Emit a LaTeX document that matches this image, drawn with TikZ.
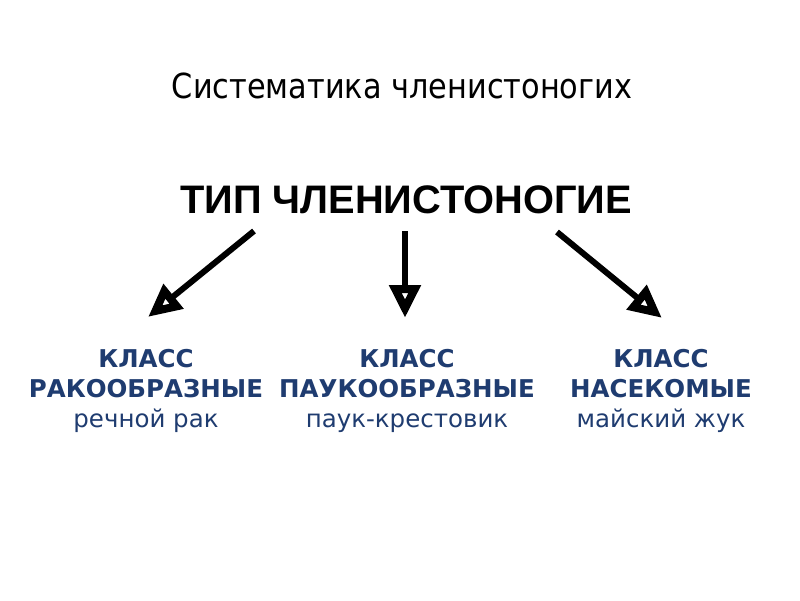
\documentclass[tikz,border=0pt]{standalone}
\usepackage{fontspec}
\setmainfont{DejaVu Sans}
\newfontfamily\titlefont[FakeStretch=0.88]{DejaVu Sans}
\newfontfamily\arialfont{Liberation Sans}
\usetikzlibrary{arrows.meta}
\definecolor{classblue}{RGB}{31,60,112}
\tikzset{
  titlestyle/.style={font=\titlefont\fontsize{34.5}{40}\selectfont, anchor=base, inner sep=0pt},
  mainstyle/.style={font=\arialfont\bfseries\fontsize{39.8}{44}\selectfont, anchor=base, inner sep=0pt},
  classstyle/.style={font=\fontsize{24.5}{30}\selectfont, text=classblue, align=center, anchor=base, inner sep=0pt},
  bigarrow/.style={line width=6pt, -{Triangle[open, length=33pt, width=30pt, fill=white, line width=8pt]}}
}
\begin{document}
\begin{tikzpicture}[x=1pt,y=-1pt]
\useasboundingbox[fill=white] (0,0) rectangle (800,600);
\node[titlestyle] (title) at (402,98) {Систематика членистоногих};
\node[mainstyle] (main) at (406,213) {ТИП ЧЛЕНИСТОНОГИЕ};
\node[classstyle] (c1) at (146,427) {\textbf{КЛАСС}\\\textbf{РАКООБРАЗНЫЕ}\\речной рак};
\node[classstyle] (c2) at (407,427) {\textbf{КЛАСС}\\\textbf{ПАУКООБРАЗНЫЕ}\\паук-крестовик};
\node[classstyle] (c3) at (661,427) {\textbf{КЛАСС}\\\textbf{НАСЕКОМЫЕ}\\майский жук};
\coordinate (s1) at (254,231);
\coordinate (e1) at (148,317);
\coordinate (s2) at (405,231);
\coordinate (e2) at (405,318);
\coordinate (s3) at (557,232);
\coordinate (e3) at (662,318);
\draw[bigarrow] (s1) -- (e1);
\draw[bigarrow] (s2) -- (e2);
\draw[bigarrow] (s3) -- (e3);
\end{tikzpicture}
\end{document}
